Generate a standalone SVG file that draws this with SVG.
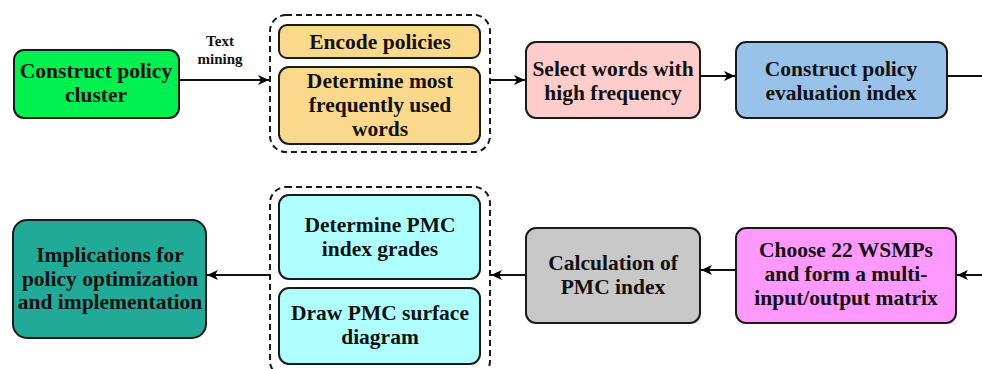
<svg xmlns="http://www.w3.org/2000/svg" width="982" height="369" viewBox="0 0 982 369">
<defs>
<marker id="ah" markerWidth="12" markerHeight="10" refX="11" refY="5" orient="auto" markerUnits="userSpaceOnUse">
<path d="M0,0 L11,5 L0,10 L3,5 Z" fill="#000"/>
</marker>
<style>
.box{stroke:#1a1a1a;stroke-width:2}
.grp{fill:none;stroke:#1a1a1a;stroke-width:2;stroke-dasharray:6,4}
.t{font-weight:bold;font-size:21.5px;text-anchor:middle;fill:#111}
.s{font-weight:bold;font-size:15px;text-anchor:middle;fill:#111}
.c{stroke:#111;stroke-width:2;fill:none}
</style>
</defs>
<rect width="982" height="369" fill="#fff"/>
<g font-family="Liberation Serif, DejaVu Serif, serif">
<g id="connectors">
<line class="c" x1="179" y1="80" x2="269" y2="80" marker-end="url(#ah)"/>
<line class="c" x1="491" y1="80" x2="525" y2="80" marker-end="url(#ah)"/>
<line class="c" x1="700" y1="76" x2="735" y2="76" marker-end="url(#ah)"/>
<line class="c" x1="947" y1="76" x2="982" y2="76"/>
<line class="c" x1="982" y1="275" x2="957" y2="275" marker-end="url(#ah)"/>
<line class="c" x1="736" y1="270" x2="701" y2="270" marker-end="url(#ah)"/>
<line class="c" x1="526" y1="275" x2="491" y2="275" marker-end="url(#ah)"/>
<line class="c" x1="270" y1="275" x2="207" y2="275" marker-end="url(#ah)"/>
<text class="s" x="220" y="46">Text</text>
<text class="s" x="220" y="64">mining</text>
</g>
<g id="n1">
<rect class="box" x="14" y="50" width="165" height="68" rx="10" fill="#00F050"/>
<text class="t" x="96" y="78">Construct policy</text>
<text class="t" x="96" y="102">cluster</text>
</g>
<g id="g1">
<rect class="grp" x="270" y="15" width="220" height="137" rx="16"/>
</g>
<g id="n2">
<rect class="box" x="279" y="25" width="201" height="33" rx="8" fill="#FBD98C"/>
<text class="t" x="380" y="49">Encode policies</text>
</g>
<g id="n3">
<rect class="box" x="279" y="67" width="201" height="77" rx="10" fill="#FBD98C"/>
<text class="t" x="380" y="88">Determine most</text>
<text class="t" x="380" y="112">frequently used</text>
<text class="t" x="380" y="136">words</text>
</g>
<g id="n4">
<rect class="box" x="526" y="42" width="174" height="76" rx="10" fill="#FFCCCC"/>
<text class="t" x="613" y="76">Select words with</text>
<text class="t" x="613" y="100">high frequency</text>
</g>
<g id="n5">
<rect class="box" x="736" y="42" width="211" height="76" rx="10" fill="#99C2EB"/>
<text class="t" x="841" y="76">Construct policy</text>
<text class="t" x="841" y="100">evaluation index</text>
</g>
<g id="n6">
<rect class="box" x="736" y="228" width="220" height="95" rx="10" fill="#FF99FF"/>
<text class="t" x="846" y="257">Choose 22 WSMPs</text>
<text class="t" x="846" y="281">and form a multi-</text>
<text class="t" x="846" y="305">input/output matrix</text>
</g>
<g id="n7">
<rect class="box" x="526" y="228" width="174" height="95" rx="10" fill="#C8C8C8"/>
<text class="t" x="613" y="270">Calculation of</text>
<text class="t" x="613" y="294">PMC index</text>
</g>
<g id="g2">
<rect class="grp" x="270" y="187" width="220" height="190" rx="16"/>
</g>
<g id="n8">
<rect class="box" x="279" y="195" width="201" height="84" rx="10" fill="#AFFFFF"/>
<text class="t" x="380" y="232">Determine PMC</text>
<text class="t" x="380" y="256">index grades</text>
</g>
<g id="n9">
<rect class="box" x="279" y="288" width="201" height="76" rx="10" fill="#AFFFFF"/>
<text class="t" x="380" y="320">Draw PMC surface</text>
<text class="t" x="380" y="344">diagram</text>
</g>
<g id="n10">
<rect class="box" x="13" y="220" width="193" height="118" rx="14" fill="#22AA99"/>
<text class="t" x="110" y="262">Implications for</text>
<text class="t" x="110" y="286">policy optimization</text>
<text class="t" x="110" y="309">and implementation</text>
</g>
</g>
</svg>
